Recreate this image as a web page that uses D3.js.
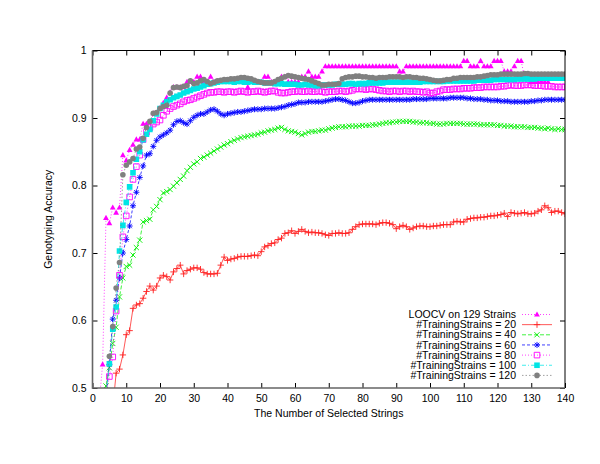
<!DOCTYPE html>
<html>
<head>
<meta charset="utf-8">
<script src="https://cdn.jsdelivr.net/npm/d3@7"></script>
<style>
  body { margin: 0; background: #fff; }
  text { font-family: "Liberation Sans", Arial, Helvetica, sans-serif; font-size: 10.5px; fill: #000; }
</style>
</head>
<body>
<script>
// x values: number of selected strings, 1..140
var strings = d3.range(1, 141);

var xTicks = [0, 10, 20, 30, 40, 50, 60, 70, 80, 90, 100, 110, 120, 130, 140];
var yTicks = [0.5, 0.6, 0.7, 0.8, 0.9, 1];

var legendLabels = ["LOOCV on 129 Strains", "#TrainingStrains = 20", "#TrainingStrains = 40",
  "#TrainingStrains = 60", "#TrainingStrains = 80", "#TrainingStrains = 100", "#TrainingStrains = 120"];

var loocv = [
  0.40, 0.48, 0.5349, 0.7519, 0.7442, 0.7674, 0.7597, 0.7674, 0.8450, 0.8372,
  0.8527, 0.8605, 0.8682, 0.8682, 0.8915, 0.8915, 0.8837, 0.9070, 0.9070, 0.9147,
  0.9225, 0.9302, 0.9380, 0.9457, 0.9457, 0.9457, 0.9457, 0.9535, 0.9535, 0.9535,
  0.9612, 0.9612, 0.9535, 0.9535, 0.9612, 0.9535, 0.9535, 0.9535, 0.9535, 0.9535,
  0.9535, 0.9535, 0.9535, 0.9535, 0.9535, 0.9457, 0.9535, 0.9535, 0.9535, 0.9535,
  0.9612, 0.9612, 0.9535, 0.9535, 0.9535, 0.9612, 0.9612, 0.9535, 0.9535, 0.9535,
  0.9535, 0.9612, 0.9612, 0.9690, 0.9612, 0.9612, 0.9612, 0.9690, 0.9767, 0.9767,
  0.9767, 0.9767, 0.9767, 0.9767, 0.9767, 0.9767, 0.9767, 0.9767, 0.9767, 0.9767,
  0.9767, 0.9767, 0.9767, 0.9767, 0.9767, 0.9767, 0.9767, 0.9767, 0.9767, 0.9767,
  0.9690, 0.9690, 0.9767, 0.9767, 0.9767, 0.9767, 0.9767, 0.9767, 0.9767, 0.9767,
  0.9767, 0.9767, 0.9767, 0.9767, 0.9767, 0.9767, 0.9767, 0.9767, 0.9767, 0.9845,
  0.9845, 0.9767, 0.9767, 0.9767, 0.9845, 0.9767, 0.9767, 0.9767, 0.9845, 0.9845,
  0.9845, 0.9690, 0.9690, 0.9690, 0.9767, 0.9845, 0.9845, 0.9612, 0.9612, 0.9535,
  0.9535, 0.9535, 0.9535, 0.9535, 0.9535, 0.9612, 0.9612, 0.9612, 0.9612, 0.9612
];

var train20 = [
  0.30, 0.35, 0.40, 0.43, 0.45, 0.47, 0.522, 0.528, 0.549, 0.579,
  0.585, 0.618, 0.623, 0.625, 0.633, 0.643, 0.651, 0.645, 0.651, 0.663,
  0.667, 0.665, 0.660, 0.672, 0.677, 0.682, 0.669, 0.674, 0.676, 0.678,
  0.678, 0.676, 0.671, 0.669, 0.669, 0.669, 0.670, 0.682, 0.694, 0.689,
  0.691, 0.692, 0.694, 0.695, 0.695, 0.695, 0.696, 0.697, 0.696, 0.702,
  0.709, 0.711, 0.714, 0.715, 0.720, 0.722, 0.729, 0.730, 0.733, 0.729,
  0.732, 0.735, 0.732, 0.730, 0.731, 0.730, 0.730, 0.729, 0.727, 0.726,
  0.729, 0.729, 0.730, 0.729, 0.729, 0.730, 0.735, 0.739, 0.742, 0.743,
  0.743, 0.743, 0.743, 0.742, 0.744, 0.745, 0.745, 0.744, 0.742, 0.736,
  0.739, 0.741, 0.739, 0.735, 0.737, 0.739, 0.740, 0.740, 0.739, 0.739,
  0.740, 0.740, 0.741, 0.742, 0.742, 0.742, 0.746, 0.747, 0.746, 0.746,
  0.750, 0.751, 0.752, 0.752, 0.753, 0.753, 0.754, 0.755, 0.755, 0.756,
  0.757, 0.759, 0.754, 0.760, 0.759, 0.758, 0.759, 0.760, 0.758, 0.758,
  0.759, 0.762, 0.764, 0.770, 0.767, 0.760, 0.762, 0.762, 0.760, 0.758
];

var train40 = [
  0.40, 0.44, 0.47, 0.503, 0.530, 0.566, 0.590, 0.635, 0.663, 0.680,
  0.682, 0.697, 0.708, 0.719, 0.746, 0.748, 0.750, 0.764, 0.769, 0.779,
  0.789, 0.791, 0.794, 0.799, 0.804, 0.809, 0.814, 0.822, 0.827, 0.832,
  0.835, 0.840, 0.842, 0.845, 0.848, 0.851, 0.854, 0.857, 0.860, 0.862,
  0.865, 0.867, 0.869, 0.871, 0.872, 0.873, 0.874, 0.875, 0.876, 0.878,
  0.879, 0.881, 0.882, 0.883, 0.885, 0.886, 0.883, 0.881, 0.880, 0.879,
  0.877, 0.875, 0.877, 0.879, 0.880, 0.880, 0.881, 0.882, 0.882, 0.884,
  0.885, 0.886, 0.887, 0.887, 0.887, 0.888, 0.888, 0.888, 0.888, 0.889,
  0.889, 0.889, 0.890, 0.890, 0.891, 0.892, 0.893, 0.893, 0.894, 0.894,
  0.895, 0.895, 0.895, 0.895, 0.894, 0.894, 0.893, 0.893, 0.893, 0.892,
  0.892, 0.891, 0.891, 0.891, 0.892, 0.892, 0.892, 0.892, 0.892, 0.891,
  0.891, 0.891, 0.891, 0.891, 0.890, 0.890, 0.890, 0.890, 0.890, 0.889,
  0.889, 0.888, 0.888, 0.888, 0.887, 0.887, 0.887, 0.887, 0.886, 0.886,
  0.886, 0.885, 0.885, 0.884, 0.885, 0.884, 0.883, 0.884, 0.883, 0.883
];

var train60 = [
  0.40, 0.43, 0.46, 0.49, 0.535, 0.602, 0.630, 0.663, 0.700, 0.720,
  0.740, 0.770, 0.790, 0.812, 0.829, 0.845, 0.847, 0.858, 0.867, 0.872,
  0.875, 0.878, 0.882, 0.890, 0.895, 0.896, 0.893, 0.891, 0.896, 0.901,
  0.904, 0.906, 0.906, 0.909, 0.912, 0.913, 0.910, 0.906, 0.904, 0.906,
  0.907, 0.908, 0.909, 0.909, 0.910, 0.911, 0.912, 0.913, 0.913, 0.913,
  0.914, 0.914, 0.914, 0.914, 0.915, 0.916, 0.917, 0.919, 0.920, 0.921,
  0.923, 0.923, 0.923, 0.924, 0.924, 0.924, 0.924, 0.924, 0.925, 0.926,
  0.927, 0.928, 0.928, 0.927, 0.926, 0.924, 0.922, 0.922, 0.923, 0.925,
  0.926, 0.927, 0.927, 0.927, 0.927, 0.927, 0.927, 0.927, 0.927, 0.927,
  0.927, 0.927, 0.927, 0.927, 0.928, 0.928, 0.928, 0.928, 0.928, 0.929,
  0.929, 0.929, 0.929, 0.929, 0.929, 0.930, 0.930, 0.930, 0.930, 0.930,
  0.929, 0.929, 0.928, 0.928, 0.928, 0.927, 0.927, 0.926, 0.926, 0.926,
  0.925, 0.925, 0.925, 0.924, 0.924, 0.924, 0.924, 0.924, 0.924, 0.925,
  0.925, 0.926, 0.926, 0.927, 0.927, 0.927, 0.927, 0.927, 0.927, 0.927
];

var train80 = [
  0.40, 0.43, 0.46, 0.49, 0.517, 0.546, 0.614, 0.667, 0.724, 0.755,
  0.783, 0.809, 0.828, 0.845, 0.868, 0.879, 0.886, 0.891, 0.894, 0.897,
  0.904, 0.910, 0.914, 0.917, 0.919, 0.921, 0.924, 0.926, 0.927, 0.929,
  0.931, 0.933, 0.935, 0.937, 0.938, 0.938, 0.939, 0.939, 0.938, 0.939,
  0.939, 0.938, 0.939, 0.940, 0.939, 0.938, 0.939, 0.939, 0.940, 0.939,
  0.938, 0.939, 0.940, 0.940, 0.938, 0.937, 0.937, 0.938, 0.939, 0.939,
  0.940, 0.939, 0.939, 0.940, 0.939, 0.939, 0.940, 0.939, 0.938, 0.939,
  0.939, 0.939, 0.940, 0.940, 0.939, 0.940, 0.941, 0.943, 0.943, 0.943,
  0.942, 0.943, 0.943, 0.942, 0.941, 0.940, 0.940, 0.939, 0.940, 0.940,
  0.939, 0.940, 0.940, 0.939, 0.940, 0.939, 0.939, 0.938, 0.939, 0.937,
  0.937, 0.939, 0.940, 0.942, 0.942, 0.942, 0.943, 0.943, 0.943, 0.944,
  0.944, 0.944, 0.945, 0.945, 0.945, 0.946, 0.946, 0.946, 0.946, 0.946,
  0.947, 0.947, 0.948, 0.949, 0.948, 0.948, 0.948, 0.949, 0.949, 0.949,
  0.948, 0.948, 0.948, 0.947, 0.947, 0.947, 0.946, 0.946, 0.946, 0.946
];

var train100 = [
  0.40, 0.43, 0.46, 0.49, 0.536, 0.587, 0.620, 0.703, 0.741, 0.775,
  0.798, 0.819, 0.839, 0.850, 0.868, 0.876, 0.883, 0.896, 0.906, 0.914,
  0.919, 0.924, 0.927, 0.930, 0.932, 0.934, 0.937, 0.939, 0.941, 0.943,
  0.944, 0.946, 0.948, 0.950, 0.951, 0.952, 0.953, 0.954, 0.954, 0.954,
  0.954, 0.953, 0.954, 0.954, 0.953, 0.953, 0.954, 0.953, 0.953, 0.953,
  0.952, 0.952, 0.952, 0.951, 0.951, 0.951, 0.950, 0.950, 0.950, 0.950,
  0.949, 0.949, 0.950, 0.949, 0.949, 0.948, 0.948, 0.949, 0.949, 0.949,
  0.949, 0.950, 0.950, 0.950, 0.950, 0.951, 0.951, 0.950, 0.951, 0.951,
  0.951, 0.952, 0.952, 0.952, 0.952, 0.952, 0.953, 0.953, 0.953, 0.953,
  0.953, 0.953, 0.953, 0.953, 0.953, 0.953, 0.953, 0.954, 0.954, 0.954,
  0.954, 0.954, 0.954, 0.954, 0.955, 0.955, 0.955, 0.955, 0.955, 0.955,
  0.955, 0.955, 0.955, 0.956, 0.956, 0.956, 0.956, 0.956, 0.957, 0.957,
  0.957, 0.957, 0.957, 0.957, 0.957, 0.958, 0.958, 0.958, 0.958, 0.958,
  0.958, 0.959, 0.959, 0.959, 0.959, 0.959, 0.959, 0.959, 0.959, 0.959
];

var train120 = [
  0.40, 0.43, 0.46, 0.495, 0.547, 0.591, 0.648, 0.686, 0.816, 0.830,
  0.835, 0.840, 0.854, 0.857, 0.870, 0.886, 0.895, 0.907, 0.908, 0.914,
  0.917, 0.919, 0.937, 0.945, 0.946, 0.945, 0.947, 0.948, 0.955, 0.951,
  0.952, 0.955, 0.957, 0.954, 0.951, 0.953, 0.955, 0.956, 0.957, 0.957,
  0.958, 0.958, 0.959, 0.960, 0.960, 0.959, 0.958, 0.956, 0.954, 0.953,
  0.952, 0.952, 0.952, 0.954, 0.957, 0.959, 0.961, 0.963, 0.962, 0.961,
  0.960, 0.959, 0.958, 0.957, 0.955, 0.953, 0.951, 0.949, 0.949, 0.950,
  0.950, 0.950, 0.951, 0.958, 0.960, 0.961, 0.961, 0.962, 0.962, 0.961,
  0.961, 0.960, 0.960, 0.959, 0.960, 0.960, 0.960, 0.961, 0.961, 0.961,
  0.961, 0.960, 0.961, 0.961, 0.960, 0.960, 0.959, 0.959, 0.958, 0.957,
  0.956, 0.955, 0.955, 0.956, 0.957, 0.957, 0.959, 0.959, 0.960, 0.960,
  0.960, 0.960, 0.960, 0.961, 0.961, 0.962, 0.963, 0.964, 0.964, 0.964,
  0.965, 0.965, 0.965, 0.965, 0.965, 0.965, 0.965, 0.966, 0.966, 0.965,
  0.965, 0.965, 0.965, 0.965, 0.965, 0.965, 0.965, 0.965, 0.965, 0.965
];

// drawing styles, in gnuplot order (later ones are drawn on top)
var series = [
  {values: loocv,    color: '#ff00ff', dash: '1,2',     marker: 'triangle'},
  {values: train20,  color: '#ff2020', dash: null,      marker: 'plus'},
  {values: train40,  color: '#00ee00', dash: '4,2',     marker: 'cross'},
  {values: train60,  color: '#0000ff', dash: '3,2',     marker: 'star'},
  {values: train80,  color: '#ff00ff', dash: '1,2',     marker: 'openSquare'},
  {values: train100, color: '#00e5e5', dash: '4,2,1,2', marker: 'square'},
  {values: train120, color: '#808080', dash: '1.5,2',   marker: 'circle'}
];

var width = 600, height = 464;
var plotL = 92.5, plotR = 565, plotT = 50.5, plotB = 388;

var x = d3.scaleLinear().domain([0, 140]).range([plotL, plotR]);
var y = d3.scaleLinear().domain([0.5, 1]).range([plotB, plotT]);

var svg = d3.select('body').append('svg')
  .attr('width', width)
  .attr('height', height);

svg.append('rect').attr('width', width).attr('height', height).attr('fill', '#fff');

svg.append('clipPath').attr('id', 'plot')
  .append('rect')
  .attr('x', plotL).attr('y', plotT)
  .attr('width', plotR - plotL).attr('height', plotB - plotT);

function markerPath(type) {
  switch (type) {
    case 'triangle': return 'M0,-3.1L2.9,2L-2.9,2Z';
    case 'plus': return 'M-3.2,0H3.2M0,-3.2V3.2';
    case 'cross': return 'M-2.6,-2.6L2.6,2.6M-2.6,2.6L2.6,-2.6';
    case 'star': return 'M-3,0H3M0,-3V3M-2.2,-2.2L2.2,2.2M-2.2,2.2L2.2,-2.2';
    case 'openSquare': return 'M-2.8,-2.8H2.8V2.8H-2.8Z';
    case 'square': return 'M-2.8,-2.8H2.8V2.8H-2.8Z';
    case 'circle': return 'M2.8,0A2.8,2.8 0 1,1 -2.8,0A2.8,2.8 0 1,1 2.8,0Z';
  }
  return '';
}

function styleMarker(sel, s) {
  var filled = s.marker === 'triangle' || s.marker === 'square' || s.marker === 'circle';
  sel.attr('d', markerPath(s.marker))
    .attr('fill', filled ? s.color : 'none')
    .attr('stroke', s.color)
    .attr('stroke-width', filled ? 0 : 0.9);
}

var line = d3.line()
  .x(function(d) { return x(d.x); })
  .y(function(d) { return y(d.v); });

var plot = svg.append('g').attr('clip-path', 'url(#plot)');

series.forEach(function(s) {
  var pts = strings.map(function(n, i) { return {x: n, v: s.values[i]}; });
  var g = plot.append('g');
  g.append('path')
    .datum(pts)
    .attr('d', line)
    .attr('fill', 'none')
    .attr('stroke', s.color)
    .attr('stroke-width', 1)
    .attr('stroke-opacity', 0.75)
    .attr('stroke-dasharray', s.dash);
  g.selectAll('path.m')
    .data(pts)
    .enter().append('path')
    .attr('class', 'm')
    .attr('transform', function(d) { return 'translate(' + x(d.x) + ',' + y(d.v) + ')'; })
    .call(styleMarker, s);
});

// axes: ticks pointing inwards, mirrored on top and right
var fmt = d3.format('~g');

var xAxis = svg.append('g')
  .attr('transform', 'translate(0,' + plotB + ')')
  .call(d3.axisBottom(x).tickValues(xTicks).tickSizeInner(-5).tickSizeOuter(0).tickPadding(6.5).tickFormat(fmt));
var yAxis = svg.append('g')
  .attr('transform', 'translate(' + plotL + ',0)')
  .call(d3.axisLeft(y).tickValues(yTicks).tickSizeInner(-5).tickSizeOuter(0).tickPadding(6).tickFormat(fmt));
var xTop = svg.append('g')
  .attr('transform', 'translate(0,' + plotT + ')')
  .call(d3.axisTop(x).tickValues(xTicks).tickSizeInner(-5).tickSizeOuter(0).tickFormat(''));
var yRight = svg.append('g')
  .attr('transform', 'translate(' + plotR + ',0)')
  .call(d3.axisRight(y).tickValues(yTicks).tickSizeInner(-5).tickSizeOuter(0).tickFormat(''));

[xAxis, yAxis, xTop, yRight].forEach(function(a) {
  a.selectAll('.domain').remove();
  a.selectAll('.tick line').attr('stroke', '#000');
  a.selectAll('text').attr('font-family', null).attr('font-size', null);
});

// frame
svg.append('path')
  .attr('d', 'M' + plotL + ',' + plotT + 'H' + plotR + 'V' + plotB)
  .attr('fill', 'none').attr('stroke', '#000').attr('stroke-width', 1);
svg.append('path')
  .attr('d', 'M' + plotL + ',' + plotT + 'V' + plotB + 'H' + plotR)
  .attr('fill', 'none').attr('stroke', '#666').attr('stroke-width', 1.6);

svg.append('text')
  .attr('x', (plotL + plotR) / 2)
  .attr('y', 417)
  .attr('text-anchor', 'middle')
  .text('The Number of Selected Strings');

svg.append('text')
  .attr('transform', 'translate(48,' + ((plotT + plotB) / 2) + ') rotate(-90)')
  .attr('dy', '0.35em')
  .attr('text-anchor', 'middle')
  .text('Genotyping Accuracy');

// legend
var legend = svg.append('g');
series.forEach(function(s, i) {
  var ly = 314.5 + i * 10.15;
  legend.append('text')
    .attr('x', 516)
    .attr('y', ly)
    .attr('dy', '0.35em')
    .attr('text-anchor', 'end')
    .text(legendLabels[i]);
  legend.append('line')
    .attr('x1', 522).attr('x2', 552)
    .attr('y1', ly).attr('y2', ly)
    .attr('stroke', s.color)
    .attr('stroke-width', 1)
    .attr('stroke-opacity', 0.75)
    .attr('stroke-dasharray', s.dash);
  legend.append('path')
    .attr('transform', 'translate(537,' + ly + ')')
    .call(styleMarker, s);
});
</script>
</body>
</html>
